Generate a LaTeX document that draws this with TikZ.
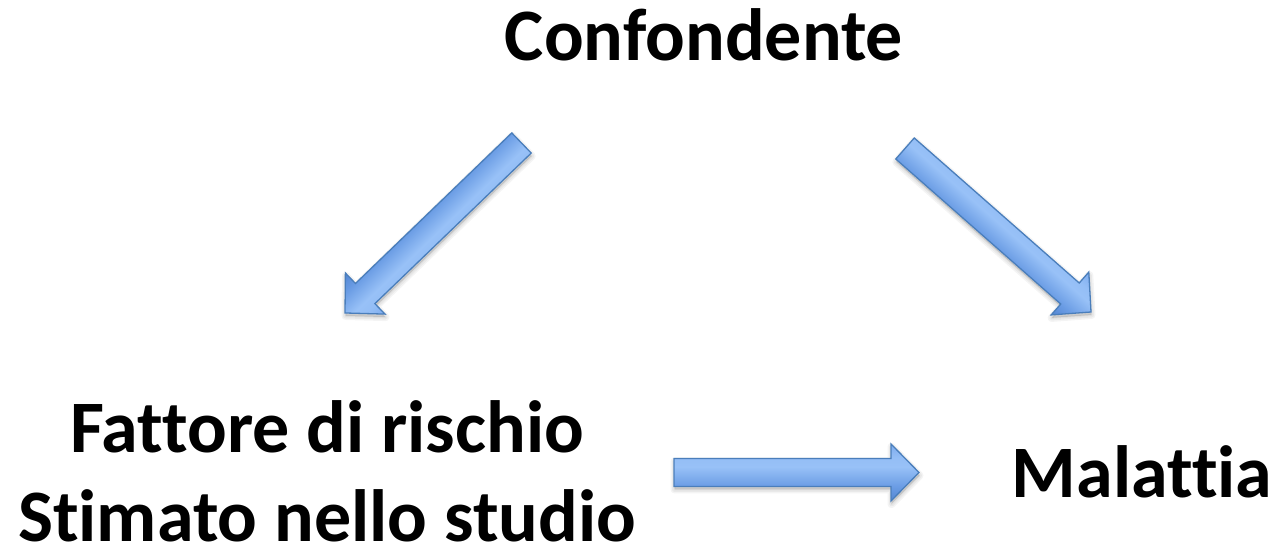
\documentclass[tikz,border=0pt]{standalone}
\usepackage{fontspec}
\setmainfont{Carlito}[Ligatures={NoCommon,NoContextual}]
\usetikzlibrary{calc}
\definecolor{arrline}{RGB}{74,126,187}
\definecolor{arrdark}{RGB}{84,134,210}
\definecolor{arrmid}{RGB}{106,156,228}
\definecolor{arrlight}{RGB}{152,193,247}
\definecolor{arrtop}{RGB}{126,172,238}
\pgfdeclareverticalshading{arrshade}{100bp}{color(0bp)=(arrdark); color(25bp)=(arrdark); color(37.5bp)=(arrmid); color(55bp)=(arrlight); color(63bp)=(arrlight!85!arrtop); color(75bp)=(arrtop); color(100bp)=(arrtop)}
\tikzset{
  label text/.style={font=\bfseries\fontsize{74}{89}\selectfont, inner sep=0pt, align=center},
  arrowbody/.style={draw=arrline, line width=1.3pt, line join=miter, shading=arrshade},
  arrowshadow/.style={fill=black, draw=black, opacity=0.045, line join=round}
}
\makeatletter
\newcommand\blockarrow[2]{%
  \pgfpointdiff{\pgfpointanchor{#1}{center}}{\pgfpointanchor{#2}{center}}%
  \pgfmathveclen{\pgf@x}{\pgf@y}\let\balen\pgfmathresult
  \pgfmathanglebetweenpoints{\pgfpointanchor{#1}{center}}{\pgfpointanchor{#2}{center}}%
  \let\baang\pgfmathresult
  \begin{scope}[shift={($(#1)+(0.5,-3)$)}, rotate=\baang]
    \foreach \w in {8,5,2}{
      \filldraw[arrowshadow, line width=\w pt] (0,-14) -- (\balen-28,-14) -- (\balen-28,-28.5) -- (\balen,0) -- (\balen-28,28.5) -- (\balen-28,14) -- (0,14) -- cycle;
    }
  \end{scope}
  \begin{scope}[shift={(#1)}, rotate=\baang]
    \pgflowlevelsynccm
    \draw[arrowbody] (0,-14) -- (\balen-28,-14) -- (\balen-28,-28.5) -- (\balen,0) -- (\balen-28,28.5) -- (\balen-28,14) -- (0,14) -- cycle;
  \end{scope}
}
\makeatother
\begin{document}
\begin{tikzpicture}[x=1pt, y=1pt]
  \useasboundingbox (0,0) rectangle (1277,548);
  \node[label text, anchor=base] (conf) at (704,487) {Confondente};
  \node[label text, anchor=base] (fatt) at (327,6) {Fattore di rischio\\Stimato nello studio};
  \node[label text, anchor=base] (mal) at (1142,50) {Malattia};
  \coordinate (a1s) at (521.5,405);
  \coordinate (a1e) at (345,235);
  \coordinate (a2s) at (905,399.5);
  \coordinate (a2e) at (1091,236);
  \coordinate (a3s) at (674,75.5);
  \coordinate (a3e) at (919,75.5);
  \blockarrow{a1s}{a1e}
  \blockarrow{a2s}{a2e}
  \blockarrow{a3s}{a3e}
\end{tikzpicture}
\end{document}
